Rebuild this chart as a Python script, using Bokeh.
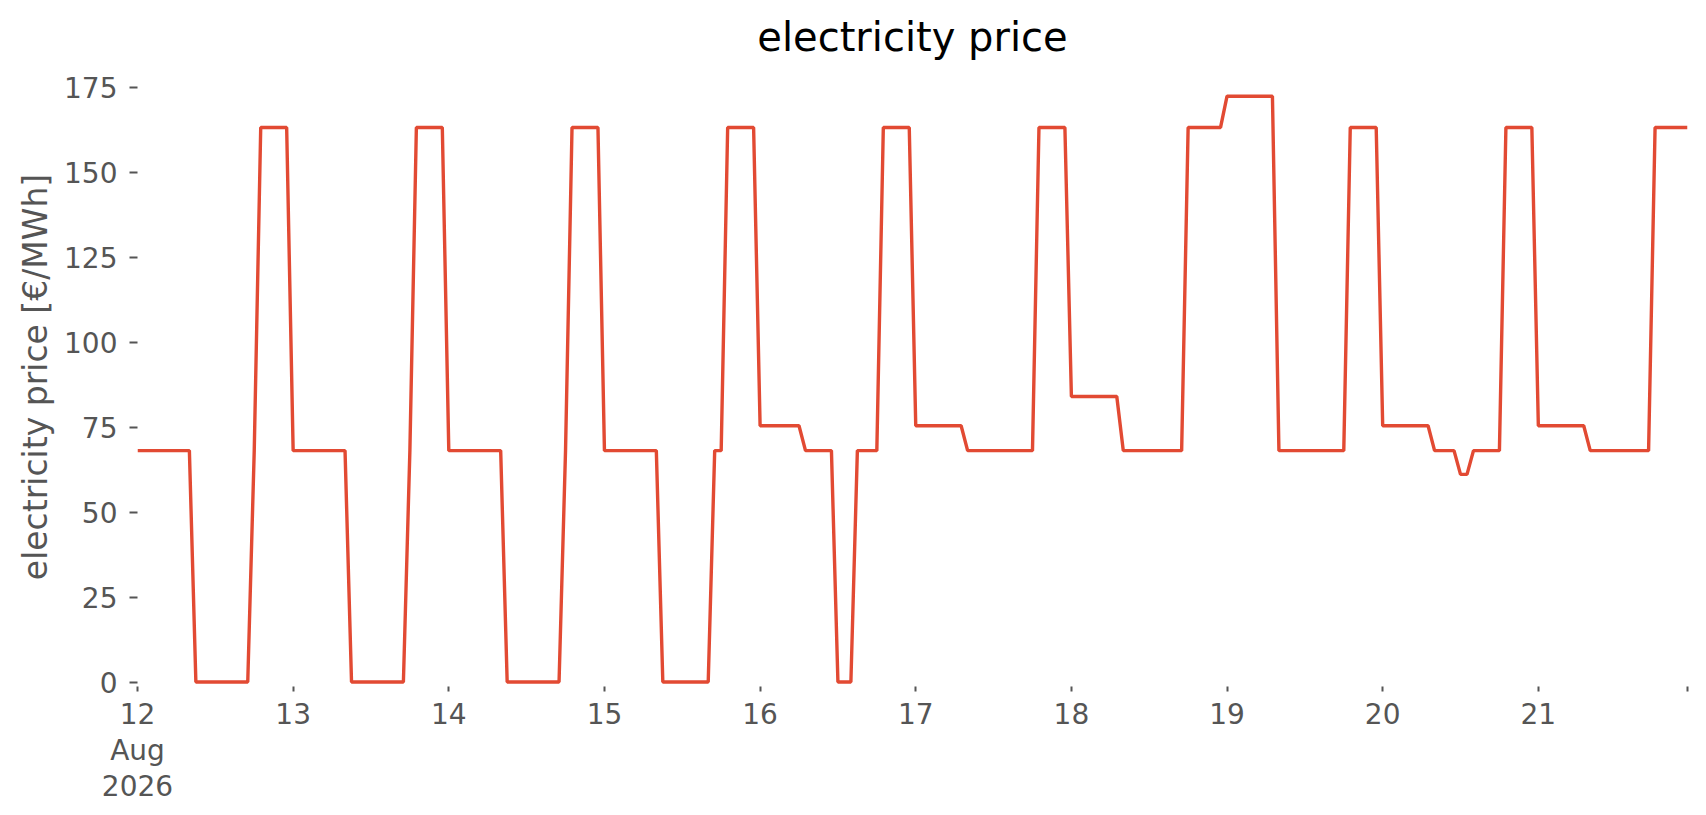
import pandas as pd
from bokeh.plotting import figure
from bokeh.models import FixedTicker, Range1d, ColumnDataSource
from bokeh.embed import file_html
from bokeh.resources import INLINE

# hourly electricity price [EUR/MWh], one list per day (hours 0..23)
aug12 = [68.1, 68.1, 68.1, 68.1, 68.1, 68.1, 68.1, 68.1, 68.1, 0.0, 0.0, 0.0,
         0.0, 0.0, 0.0, 0.0, 0.0, 0.0, 68.1, 163.2, 163.2, 163.2, 163.2, 163.2]
aug13 = [68.1, 68.1, 68.1, 68.1, 68.1, 68.1, 68.1, 68.1, 68.1, 0.0, 0.0, 0.0,
         0.0, 0.0, 0.0, 0.0, 0.0, 0.0, 68.1, 163.2, 163.2, 163.2, 163.2, 163.2]
aug14 = [68.1, 68.1, 68.1, 68.1, 68.1, 68.1, 68.1, 68.1, 68.1, 0.0, 0.0, 0.0,
         0.0, 0.0, 0.0, 0.0, 0.0, 0.0, 68.1, 163.2, 163.2, 163.2, 163.2, 163.2]
aug15 = [68.1, 68.1, 68.1, 68.1, 68.1, 68.1, 68.1, 68.1, 68.1, 0.0, 0.0, 0.0,
         0.0, 0.0, 0.0, 0.0, 0.0, 68.1, 68.1, 163.2, 163.2, 163.2, 163.2, 163.2]
aug16 = [75.4, 75.4, 75.4, 75.4, 75.4, 75.4, 75.4, 68.1, 68.1, 68.1, 68.1, 68.1,
         0.0, 0.0, 0.0, 68.1, 68.1, 68.1, 68.1, 163.2, 163.2, 163.2, 163.2, 163.2]
aug17 = [75.4, 75.4, 75.4, 75.4, 75.4, 75.4, 75.4, 75.4, 68.1, 68.1, 68.1, 68.1,
         68.1, 68.1, 68.1, 68.1, 68.1, 68.1, 68.1, 163.2, 163.2, 163.2, 163.2, 163.2]
aug18 = [84.0, 84.0, 84.0, 84.0, 84.0, 84.0, 84.0, 84.0, 68.1, 68.1, 68.1, 68.1,
         68.1, 68.1, 68.1, 68.1, 68.1, 68.1, 163.2, 163.2, 163.2, 163.2, 163.2, 163.2]
aug19 = [172.4, 172.4, 172.4, 172.4, 172.4, 172.4, 172.4, 172.4, 68.1, 68.1, 68.1, 68.1,
         68.1, 68.1, 68.1, 68.1, 68.1, 68.1, 68.1, 163.2, 163.2, 163.2, 163.2, 163.2]
aug20 = [75.4, 75.4, 75.4, 75.4, 75.4, 75.4, 75.4, 75.4, 68.1, 68.1, 68.1, 68.1,
         61.1, 61.1, 68.1, 68.1, 68.1, 68.1, 68.1, 163.2, 163.2, 163.2, 163.2, 163.2]
aug21 = [75.4, 75.4, 75.4, 75.4, 75.4, 75.4, 75.4, 75.4, 68.1, 68.1, 68.1, 68.1,
         68.1, 68.1, 68.1, 68.1, 68.1, 68.1, 163.2, 163.2, 163.2, 163.2, 163.2, 163.2]

days = [aug12, aug13, aug14, aug15, aug16, aug17, aug18, aug19, aug20, aug21]
start = "2026-08-12 00:00"

day_labels = ["12\nAug\n2026", "13", "14", "15", "16", "17", "18", "19", "20", "21"]
y_ticks = [0, 25, 50, 75, 100, 125, 150, 175]

price = [v for d in days for v in d]
times = pd.date_range(start, periods=len(price), freq="h")
src = ColumnDataSource(dict(t=times, price=price))

def ms(ts):
    return float(pd.Timestamp(ts).value // 10**6)

day_ticks = [ms(pd.Timestamp(start) + pd.Timedelta(days=i)) for i in range(len(days))]
end_tick = ms(times[-1])
overrides = {t: lab for t, lab in zip(day_ticks, day_labels)}
overrides[end_tick] = ""

FONT = "DejaVu Sans"
GREY = "#555555"

p = figure(width=1706, height=815, x_axis_type="datetime",
           output_backend="svg", toolbar_location=None,
           x_range=Range1d(ms(times[0]), end_tick), y_range=Range1d(-1.32, 180.84),
           min_border_left=137, min_border_right=19, min_border_top=67,
           min_border_bottom=129)

p.line(x="t", y="price", source=src, line_color="#E24A33", line_width=3.4)

p.title.text = "electricity price"
p.title.align = "center"
p.title.text_font = FONT
p.title.text_font_size = "40px"
p.title.text_font_style = "normal"
p.title.text_color = "#000000"
p.title.standoff = 15

p.outline_line_color = None
p.background_fill_color = "white"
p.border_fill_color = "white"
p.xgrid.visible = False
p.ygrid.visible = False

ya = p.yaxis[0]
ya.ticker = FixedTicker(ticks=y_ticks)
ya.axis_line_color = None
ya.major_tick_in = 0
ya.major_tick_out = 8
ya.major_tick_line_color = GREY
ya.major_tick_line_width = 2
ya.minor_tick_line_color = None
ya.major_label_text_font = FONT
ya.major_label_text_font_size = "28px"
ya.major_label_text_color = GREY
ya.major_label_standoff = 12
ya.axis_label = "electricity price [€/MWh]"
ya.axis_label_text_font = FONT
ya.axis_label_text_font_size = "33px"
ya.axis_label_text_font_style = "normal"
ya.axis_label_text_color = GREY
ya.axis_label_standoff = 6

xa = p.xaxis[0]
xa.ticker = FixedTicker(ticks=day_ticks + [end_tick])
xa.major_label_overrides = overrides
xa.axis_line_color = None
xa.major_tick_in = 0
xa.major_tick_out = 5
xa.major_tick_line_color = GREY
xa.major_tick_line_width = 2
xa.minor_tick_line_color = None
xa.major_label_text_font = FONT
xa.major_label_text_font_size = "28px"
xa.major_label_text_color = GREY
xa.major_label_text_line_height = 1.1
xa.major_label_standoff = 6

open("out.html", "w").write(file_html(p, INLINE))
